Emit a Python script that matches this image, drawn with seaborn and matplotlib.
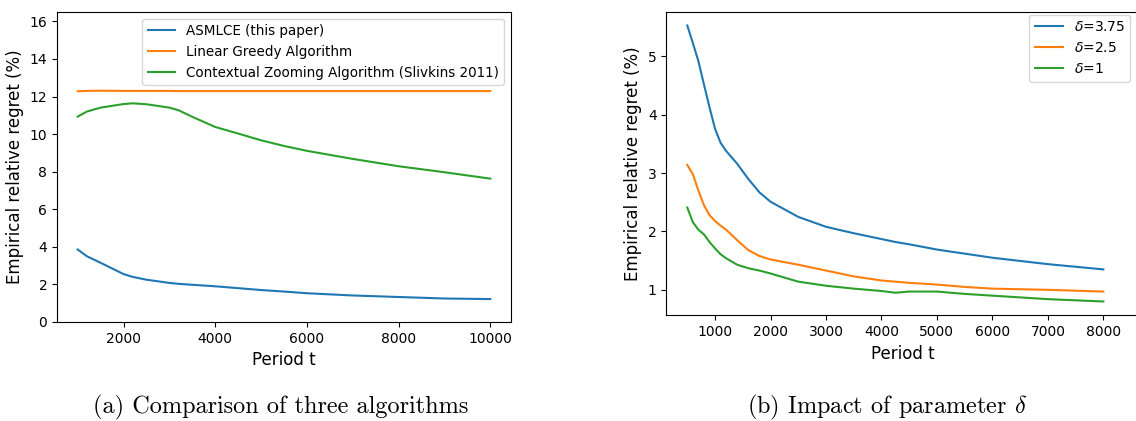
import matplotlib
matplotlib.use("Agg")
import matplotlib.pyplot as plt
import seaborn as sns
import pandas as pd

# ---------- data: panel (a) ----------
t_a = [1000, 1200, 1500, 2000, 2200, 2500, 3000, 3200, 3500, 4000, 4500, 5000,
       5500, 6000, 7000, 8000, 9000, 10000]
asmlce = [3.86, 3.50, 3.15, 2.55, 2.40, 2.25, 2.08, 2.03, 1.98, 1.90, 1.80, 1.70,
          1.62, 1.53, 1.41, 1.33, 1.25, 1.22]
greedy = [12.28, 12.30, 12.31, 12.30, 12.30, 12.30, 12.30, 12.29, 12.29, 12.29, 12.29, 12.29,
          12.29, 12.29, 12.29, 12.29, 12.29, 12.29]
zooming = [10.93, 11.20, 11.41, 11.60, 11.64, 11.59, 11.41, 11.27, 10.92, 10.38, 10.03, 9.67,
           9.37, 9.11, 8.68, 8.29, 7.97, 7.63]
labels_a = ["ASMLCE (this paper)", "Linear Greedy Algorithm",
            "Contextual Zooming Algorithm (Slivkins 2011)"]

# ---------- data: panel (b) ----------
t_b = [500, 600, 700, 800, 900, 1000, 1100, 1200, 1400, 1600, 1800, 2000, 2500,
       3000, 3500, 4000, 4250, 4500, 5000, 5500, 6000, 7000, 8000]
d375 = [5.53, 5.23, 4.92, 4.52, 4.13, 3.76, 3.52, 3.38, 3.16, 2.90, 2.67, 2.51, 2.25,
        2.08, 1.97, 1.87, 1.82, 1.78, 1.69, 1.62, 1.55, 1.44, 1.35]
d25 = [3.14, 2.98, 2.70, 2.45, 2.28, 2.18, 2.10, 2.03, 1.85, 1.68, 1.58, 1.52, 1.43,
       1.33, 1.23, 1.16, 1.14, 1.12, 1.09, 1.05, 1.02, 1.00, 0.97]
d1 = [2.41, 2.16, 2.03, 1.95, 1.82, 1.71, 1.61, 1.54, 1.43, 1.37, 1.33, 1.28, 1.14,
      1.07, 1.02, 0.98, 0.95, 0.97, 0.97, 0.93, 0.90, 0.84, 0.80]
labels_b = [r"$\delta$=3.75", r"$\delta$=2.5", r"$\delta$=1"]

captions = ["(a) Comparison of three algorithms", r"(b) Impact of parameter $\delta$"]
xlabel = "Period t"
ylabel = "Empirical relative regret (%)"

plt.rcParams["mathtext.fontset"] = "dejavusans"

df_a = pd.concat([
    pd.DataFrame({"t": t_a, "regret": v, "method": lab})
    for v, lab in zip([asmlce, greedy, zooming], labels_a)
])
df_b = pd.concat([
    pd.DataFrame({"t": t_b, "regret": v, "method": lab})
    for v, lab in zip([d375, d25, d1], labels_b)
])

fig = plt.figure(figsize=(11.36, 4.21), dpi=100)
ax1 = fig.add_axes([0.0502, 0.2352, 0.3996, 0.7363])
ax2 = fig.add_axes([0.5867, 0.2511, 0.4168, 0.7211])

pal = sns.color_palette("tab10", 3)

sns.lineplot(data=df_a, x="t", y="regret", hue="method", hue_order=labels_a,
             palette=pal, ax=ax1, linewidth=1.5)
sns.lineplot(data=df_b, x="t", y="regret", hue="method", hue_order=labels_b,
             palette=pal, ax=ax2, linewidth=1.5)

ax1.set_ylim(0, 16.5)
ax1.set_yticks([0, 2, 4, 6, 8, 10, 12, 14, 16])
ax1.set_xticks([2000, 4000, 6000, 8000, 10000])
ax2.set_xlim(125, 8660)
ax2.set_xticks([1000, 2000, 3000, 4000, 5000, 6000, 7000, 8000])
ax2.set_yticks([1, 2, 3, 4, 5])

for ax in (ax1, ax2):
    ax.set_xlabel(xlabel, fontsize=12)
    ax.set_ylabel(ylabel, fontsize=12)
    ax.tick_params(labelsize=10)

h, l = ax1.get_legend_handles_labels()
ax1.legend(h, l, loc="upper right", fontsize=9.75, title=None)
h, l = ax2.get_legend_handles_labels()
ax2.legend(h, l, loc="upper right", fontsize=10, title=None,
           bbox_to_anchor=(1130 / 1136, 1 - 14.5 / 421),
           bbox_transform=fig.transFigure, borderaxespad=0)

fig.text(0.247, 0.033, captions[0], family="cmr10", fontsize=17.5, ha="center", va="center")
fig.text(0.781, 0.033, captions[1], family="cmr10", fontsize=17.5, ha="center", va="center",
         math_fontfamily="cm")

fig.savefig("out.png", dpi=100)
